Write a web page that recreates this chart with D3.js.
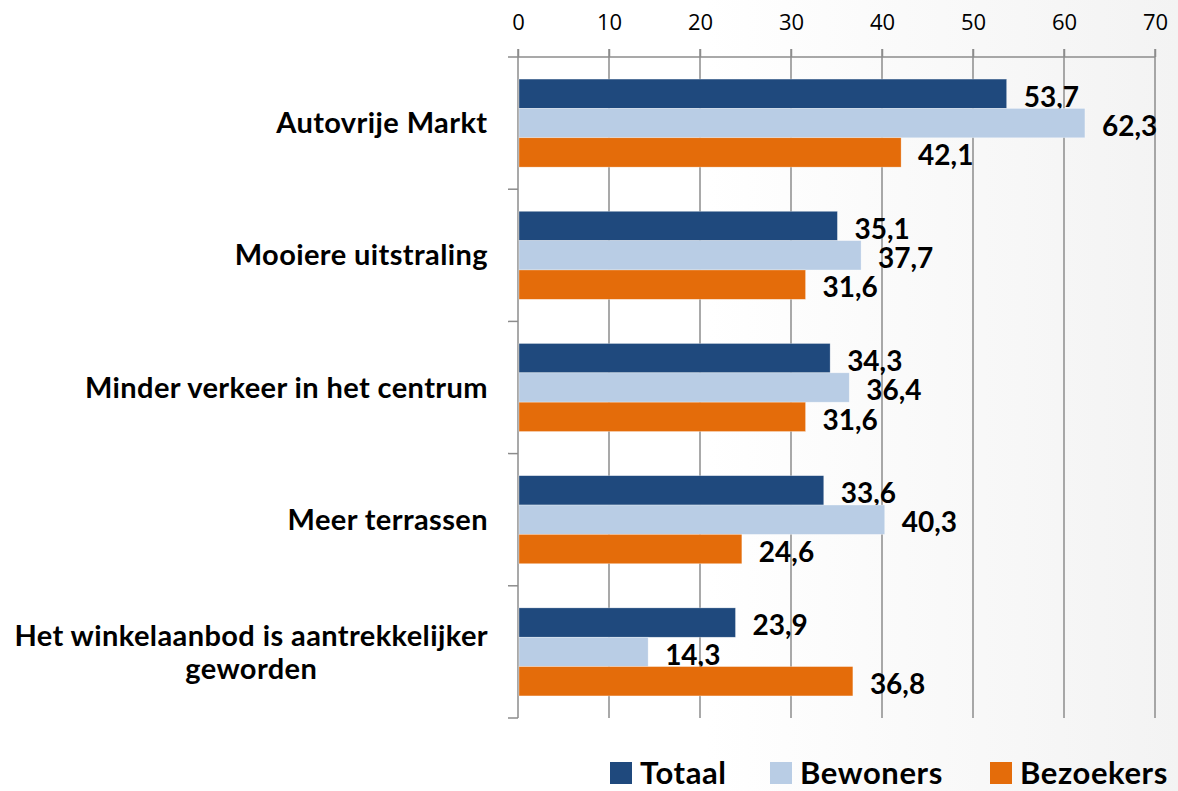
<!DOCTYPE html>
<style>
body { margin: 0; }
</style>
<svg width="1178" height="791" font-family="Lato, 'Open Sans', sans-serif"></svg>
<script src="https://d3js.org/d3.v7.min.js"></script>
<script>

const categories = [
	'Autovrije Markt',
	'Mooiere uitstraling',
	'Minder verkeer in het centrum',
	'Meer terrassen',
	'Het winkelaanbod is aantrekkelijker|geworden'
];
const seriesNames = ['Totaal', 'Bewoners', 'Bezoekers'];
const totaal = [53.7, 35.1, 34.3, 33.6, 23.9];
const bewoners = [62.3, 37.7, 36.4, 40.3, 14.3];
const bezoekers = [42.1, 31.6, 31.6, 24.6, 36.8];
const ticks = [0, 10, 20, 30, 40, 50, 60, 70];
const colors = ['#1f497d', '#b9cde5', '#e46c0a'];

const series = [totaal, bewoners, bezoekers];

let svg = d3.select('svg'),
	width = Number(svg.attr('width')),
	height = Number(svg.attr('height'));

const defs = svg.append('defs');
const grad = defs.append('linearGradient').attr('id', 'bg').attr('x1', 0).attr('x2', 1);
grad.append('stop').attr('offset', '0%').attr('stop-color', '#ffffff');
grad.append('stop').attr('offset', '60%').attr('stop-color', '#ffffff');
grad.append('stop').attr('offset', '100%').attr('stop-color', '#f3f3f3');
svg.append('rect').attr('width', width).attr('height', height).attr('fill', 'url(#bg)');

const plotLeft = 518, plotRight = 1155, plotTop = 57, plotBottom = 718;

const x = d3.scaleLinear().domain([0, 70]).range([plotLeft, plotRight]);
const y = d3.scaleBand().domain(d3.range(categories.length)).range([plotTop, plotBottom])
	.paddingInner(0.334).paddingOuter(0.167);
const ySub = d3.scaleBand().domain(d3.range(series.length)).range([0, y.bandwidth()]);

// gridlines
svg.append('g').selectAll('line')
	.data(ticks.slice(1))
	.join('line')
	.attr('x1', (d) => x(d)).attr('x2', (d) => x(d))
	.attr('y1', plotTop - 8).attr('y2', plotBottom)
	.attr('stroke', '#8c8c8c').attr('stroke-width', 1.5);

// top axis
const xAxis = svg.append('g')
	.attr('transform', `translate(0,${plotTop})`)
	.call(d3.axisTop(x).tickValues(ticks).tickSize(8).tickPadding(19).tickSizeOuter(0));
xAxis.select('.domain').attr('stroke', '#8c8c8c').attr('stroke-width', 1.5)
	.attr('d', `M${plotLeft - 10},0H${plotRight}`);
xAxis.selectAll('.tick line').attr('stroke', '#8c8c8c').attr('stroke-width', 1.5);
xAxis.selectAll('.tick text').attr('font-size', 22).attr('fill', '#000')
	.attr('font-family', "'Open Sans', sans-serif");

// left axis
const yAxis = svg.append('g');
yAxis.append('line')
	.attr('x1', plotLeft).attr('x2', plotLeft).attr('y1', plotTop - 8).attr('y2', plotBottom)
	.attr('stroke', '#8c8c8c').attr('stroke-width', 1.5);
yAxis.selectAll('.ytick')
	.data(d3.range(categories.length))
	.join('line')
	.attr('x1', plotLeft - 10).attr('x2', plotLeft)
	.attr('y1', (i) => y(i) + y.bandwidth() + y.step() * 0.167)
	.attr('y2', (i) => y(i) + y.bandwidth() + y.step() * 0.167)
	.attr('stroke', '#8c8c8c').attr('stroke-width', 1.5);

// bars
const group = svg.append('g').selectAll('g')
	.data(categories)
	.join('g')
	.attr('transform', (d, i) => `translate(0,${y(i)})`);

series.forEach((values, s) => {
	group.append('rect')
		.attr('x', x(0) + 1)
		.attr('y', ySub(s))
		.attr('width', (d, i) => x(values[i]) - x(0) - 1)
		.attr('height', ySub.bandwidth())
		.attr('fill', colors[s])
		.attr('stroke', '#ffffff').attr('stroke-opacity', 0.5).attr('stroke-width', 0.6);
	group.append('text')
		.attr('x', (d, i) => x(values[i]) + 17)
		.attr('y', ySub(s) + ySub.bandwidth() / 2 + 3)
		.attr('dy', '0.35em')
		.attr('font-size', 28).attr('font-weight', 'bold')
		.text((d, i) => d3.format('.1f')(values[i]).replace('.', ','));
});

// category labels
group.each(function (d, i) {
	const lines = d.split('|');
	const g = d3.select(this);
	const mid = y.bandwidth() / 2;
	const t = g.append('text')
		.attr('font-size', 29).attr('font-weight', 'bold')
		.attr('letter-spacing', 0.4)
		.attr('text-anchor', 'middle');
	lines.forEach((line, k) => {
		t.append('tspan').attr('x', 0)
			.attr('y', mid + (k - (lines.length - 1) / 2) * 33)
			.attr('dy', '0.35em')
			.text(line);
	});
	const w = t.node().getBBox().width;
	t.attr('transform', `translate(${488 - w / 2},0)`);
});

// legend
const legendX = [610, 770, 990];
const legend = svg.append('g').selectAll('g')
	.data(seriesNames)
	.join('g')
	.attr('transform', (d, i) => `translate(${legendX[i]},762)`);
legend.append('rect').attr('width', 22).attr('height', 22).attr('fill', (d, i) => colors[i]);
legend.append('text')
	.attr('x', 30).attr('y', 22)
	.attr('font-size', 31).attr('font-weight', 'bold')
	.attr('letter-spacing', 0.6)
	.text((d) => d);

</script>
